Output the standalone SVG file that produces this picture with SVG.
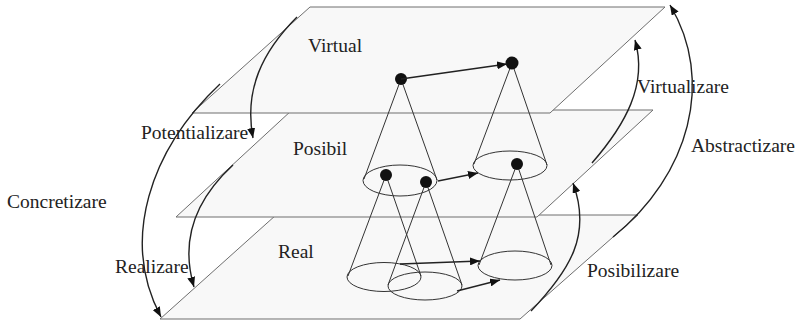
<svg xmlns="http://www.w3.org/2000/svg" width="795" height="321" viewBox="0 0 795 321">
  <style>
    .plane { fill: #f8f8f8; stroke: #6e6e6e; stroke-width: 1; }
    .cone { fill: none; stroke: #333; stroke-width: 1; }
    .dot { fill: #111; }
    .arrow { fill: none; stroke: #222; stroke-width: 1.4; marker-end: url(#head); }
    .label { font-family: "Liberation Serif", "Times New Roman", serif; font-size: 19.5px; fill: #222; }
  </style>
  <defs>
    <marker id="head" viewBox="0 0 10 8" refX="10" refY="4" markerWidth="10" markerHeight="8" markerUnits="userSpaceOnUse" orient="auto">
      <path d="M0,0 L10,4 L0,8 Z" fill="#111"/>
    </marker>
  </defs>
  <rect width="795" height="321" fill="#fff"/>

  <!-- planes, back to front -->
  <g id="plane-real">
    <polygon class="plane" points="276,215 638,215 520,319 160,319"/>
    <text class="label" x="278" y="258">Real</text>
  </g>
  <g id="plane-posibil">
    <polygon class="plane" points="292,110 653,110 537,217 176,217"/>
    <text class="label" x="293" y="155">Posibil</text>
  </g>
  <g id="plane-virtual">
    <polygon class="plane" points="310,7 665,7 550,113 192,113"/>
    <text class="label" x="308" y="52">Virtual</text>
  </g>

  <!-- cones projecting each point onto the level below -->
  <g id="cone-a">
    <line class="cone" x1="401" y1="79" x2="364" y2="179"/>
    <line class="cone" x1="401" y1="79" x2="437" y2="180"/>
    <ellipse class="cone" cx="400" cy="180.5" rx="37" ry="15.5"/>
    <circle class="dot" cx="401" cy="79" r="6"/>
  </g>
  <g id="cone-b">
    <line class="cone" x1="512" y1="63" x2="474" y2="164"/>
    <line class="cone" x1="512" y1="63" x2="547" y2="165"/>
    <ellipse class="cone" cx="510" cy="165.5" rx="37" ry="14.5"/>
    <circle class="dot" cx="512" cy="63" r="6.5"/>
  </g>
  <g id="cone-c">
    <line class="cone" x1="386" y1="175" x2="348" y2="276"/>
    <line class="cone" x1="386" y1="175" x2="421" y2="276"/>
    <ellipse class="cone" cx="384" cy="277" rx="37" ry="14.5"/>
    <circle class="dot" cx="386" cy="175" r="6"/>
  </g>
  <g id="cone-d">
    <line class="cone" x1="426" y1="182" x2="388" y2="285"/>
    <line class="cone" x1="426" y1="182" x2="462" y2="285"/>
    <ellipse class="cone" cx="425" cy="286" rx="37" ry="14"/>
    <circle class="dot" cx="426" cy="182" r="6"/>
  </g>
  <g id="cone-e">
    <line class="cone" x1="517" y1="164" x2="479" y2="265"/>
    <line class="cone" x1="517" y1="164" x2="551" y2="265"/>
    <ellipse class="cone" cx="515" cy="265.5" rx="37" ry="14.5"/>
    <circle class="dot" cx="517" cy="164" r="6"/>
  </g>

  <!-- connectors -->
  <g id="connectors">
    <path class="arrow" d="M401,79 L507,64"/>
    <path class="arrow" d="M438,181 L478,173"/>
    <path class="arrow" d="M400,264 L480,261"/>
    <path class="arrow" d="M457,291 L500,280"/>

    <path class="arrow" d="M297,17 C262,52 244,90 253,138"/>
    <path class="arrow" d="M220,84 C150,150 120,240 161,317"/>
    <path class="arrow" d="M233,165 C195,200 180,240 194,287"/>
    <path class="arrow" d="M592,163 C625,125 648,85 635,40"/>
    <path class="arrow" d="M613,237 C690,175 715,80 670,5"/>
    <path class="arrow" d="M531,311 C570,270 592,235 573,183"/>
  </g>

  <!-- transition labels -->
  <g id="labels">
    <text class="label" x="141" y="139">Potentializare</text>
    <text class="label" x="7" y="208">Concretizare</text>
    <text class="label" x="115" y="273">Realizare</text>
    <text class="label" x="637" y="93">Virtualizare</text>
    <text class="label" x="691" y="152">Abstractizare</text>
    <text class="label" x="587" y="277">Posibilizare</text>
  </g>
</svg>
